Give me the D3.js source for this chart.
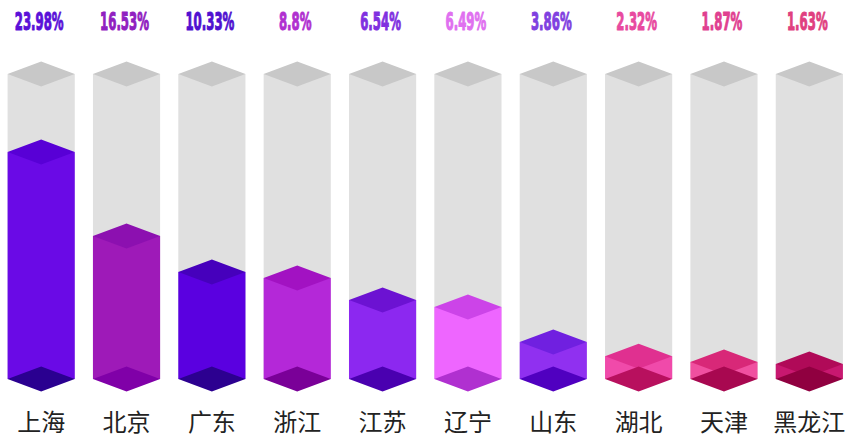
<!DOCTYPE html>
<html>
<head>
<meta charset="utf-8">
<script src="https://cdn.jsdelivr.net/npm/d3@7/dist/d3.min.js"></script>
<style>
  html, body { margin: 0; padding: 0; background: #fff; }
  svg { display: block; }
</style>
</head>
<body>
<svg id="chart" width="851" height="441"></svg>
<script>
// ---- data ----
const categories = ["上海", "北京", "广东", "浙江", "江苏", "辽宁", "山东", "湖北", "天津", "黑龙江"];
const percentLabels = ["23.98%", "16.53%", "10.33%", "8.8%", "6.54%", "6.49%", "3.86%", "2.32%", "1.87%", "1.63%"];
// bar heights (background column = 100)
const barValues = [74.4, 46.9, 35.1, 33.1, 25.9, 23.6, 12.1, 7.5, 5.6, 4.9];
const backgroundMax = 100;
const frontColors  = ["#6a0ae6", "#9e1ab8", "#5a00e0", "#b428d8", "#8c28f0", "#ee66ff", "#9030f0", "#f04aaa", "#f050a0", "#c81870"];
const topColors    = ["#5800d6", "#8c10b0", "#4600bc", "#a212c2", "#6c12d2", "#cc44e8", "#7020e0", "#e03090", "#d82878", "#b00a58"];
const bottomColors = ["#2a0090", "#8000a8", "#2c0090", "#7a0098", "#4a00b0", "#b030d0", "#5000c0", "#b8105e", "#a80850", "#900040"];
const labelColors  = ["#5a10d8", "#9020c0", "#5010d0", "#b030d0", "#8030e0", "#e070f0", "#8040e0", "#e84aa0", "#e04090", "#e04080"];

// ---- layout ----
const svg = d3.select("#chart");
const x = d3.scaleBand().domain(categories).range([-1.5, 852]).paddingInner(0.213).paddingOuter(0.1065);
const y = d3.scaleLinear().domain([0, backgroundMax]).range([379, 74]);
const dh = 12.5; // half height of diamond faces
const bw = x.bandwidth();

function diamond(cx, cy) {
  return `M${cx - bw / 2},${cy} L${cx},${cy - dh} L${cx + bw / 2},${cy} L${cx},${cy + dh} Z`;
}

const rows = categories.map((c, i) => ({ c, i, v: barValues[i] }));
const g = svg.append("g");

// background columns
g.selectAll("rect.bg").data(rows).join("rect")
  .attr("class", "bg")
  .attr("x", d => x(d.c)).attr("width", bw)
  .attr("y", y(backgroundMax)).attr("height", y(0) - y(backgroundMax))
  .attr("fill", "#e0e0e0");
g.selectAll("path.bgtop").data(rows).join("path")
  .attr("class", "bgtop")
  .attr("d", d => diamond(x(d.c) + bw / 2, y(backgroundMax)))
  .attr("fill", "#c8c8c8");

// value columns
g.selectAll("rect.bar").data(rows).join("rect")
  .attr("class", "bar")
  .attr("x", d => x(d.c)).attr("width", bw)
  .attr("y", d => y(d.v)).attr("height", d => y(0) - y(d.v))
  .attr("fill", d => frontColors[d.i]);
g.selectAll("path.top").data(rows).join("path")
  .attr("class", "top")
  .attr("d", d => diamond(x(d.c) + bw / 2, y(d.v)))
  .attr("fill", d => topColors[d.i]);
g.selectAll("path.bottom").data(rows).join("path")
  .attr("class", "bottom")
  .attr("d", d => diamond(x(d.c) + bw / 2, y(0)))
  .attr("fill", d => bottomColors[d.i]);

// percent labels (condensed heavy)
const pl = svg.append("g").selectAll("text").data(rows).join("text")
  .text(d => percentLabels[d.i])
  .attr("text-anchor", "middle")
  .attr("font-family", "'Liberation Sans Narrow', 'DejaVu Sans', sans-serif")
  .attr("font-weight", "bold")
  .attr("font-size", 24)
  .attr("fill", d => labelColors[d.i])
  .attr("stroke", d => labelColors[d.i])
  .attr("stroke-width", 1.1)
  .attr("stroke-linejoin", "round");
const refLen = pl.nodes()[0].getComputedTextLength();
const sx = 49 / refLen;
pl.attr("transform", d => `translate(${x(d.c) + bw / 2 - 2},30) scale(${sx},1)`);

// category labels
svg.append("g").selectAll("text").data(rows).join("text")
  .text(d => d.c)
  .attr("x", d => x(d.c) + bw / 2)
  .attr("y", 431)
  .attr("text-anchor", "middle")
  .attr("font-family", "'Noto Sans CJK SC', sans-serif")
  .attr("font-size", 24)
  .attr("fill", "#222");
</script>
</body>
</html>
